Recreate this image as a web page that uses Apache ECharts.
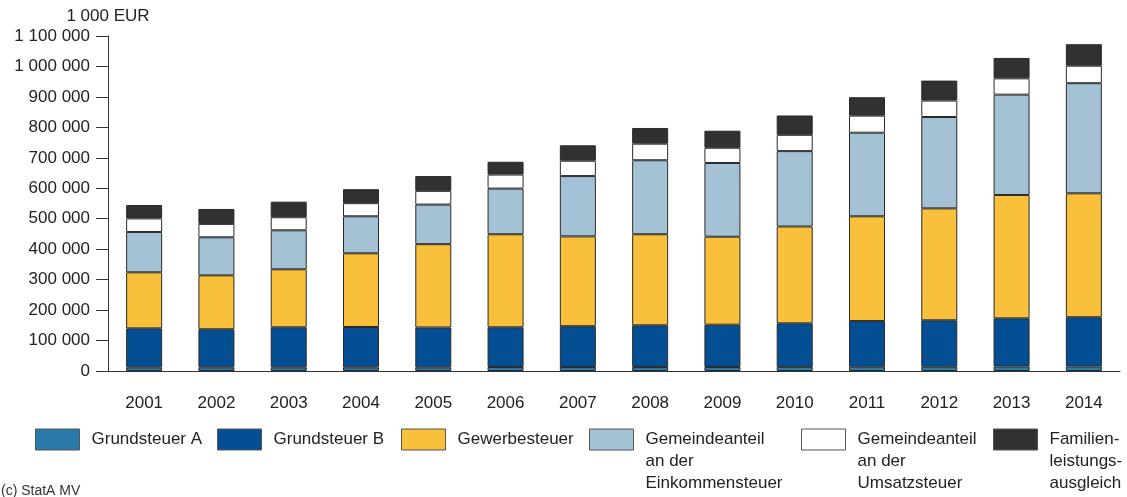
<!DOCTYPE html>
<html>
<head>
<meta charset="utf-8">
<script src="https://cdn.jsdelivr.net/npm/echarts@6/dist/echarts.min.js"></script>
<style>
html,body{margin:0;padding:0;background:#fff;}
#chart{width:1127px;height:497px;}
</style>
</head>
<body>
<div id="chart"></div>
<script>
const years = ['2001','2002','2003','2004','2005','2006','2007','2008','2009','2010','2011','2012','2013','2014'];
const grundsteuerA = [12000,12000,12000,12000,12000,13000,13000,13000,13000,13500,14000,14000,15000,15000];
const grundsteuerB = [128000,125000,131500,132500,131000,130500,134000,137000,139000,143000,150000,152500,158000,161500];
const gewerbesteuer = [184000,177000,190500,242000,273500,305500,295000,299000,289000,318000,344000,367500,405000,407000];
const einkommensteuer = [132500,125000,128000,121500,130000,150000,198000,243000,242000,247500,274500,300000,329500,361500];
const umsatzsteuer = [44500,44000,43000,43000,45000,46000,50500,54500,50000,53500,56000,54000,53500,57500];
const familienleistung = [44000,49000,51000,46000,48500,42000,50500,51500,56000,63500,60500,65500,67000,70500];
const yTicks = [0,100000,200000,300000,400000,500000,600000,700000,800000,900000,1000000,1100000];

const names = ['Grundsteuer A','Grundsteuer B','Gewerbesteuer',
  'Gemeindeanteil\nan der\nEinkommensteuer','Gemeindeanteil\nan der\nUmsatzsteuer','Familien-\nleistungs-\nausgleich'];
const colors = ['#2b7aa9','#044f93','#f8c03b','#a4c1d6','#ffffff','#323031'];
const dataSets = [grundsteuerA,grundsteuerB,gewerbesteuer,einkommensteuer,umsatzsteuer,familienleistung];
const legendLeft = [35,217,401,589,801,993];

const font = "'Liberation Sans', Arial, sans-serif";
const fmt = v => String(v).replace(/\B(?=(\d{3})+(?!\d))/g, ' ');

const series = names.map((n,i)=>({
  name:n, type:'bar', stack:'total', barWidth:36,
  data:dataSets[i],
  itemStyle:{color:colors[i], borderColor:'#2a2a2a', borderWidth:1},
  emphasis:{disabled:true}
}));

const legends = names.map((n,i)=>{
  const multi = n.indexOf('\n')>=0;
  return {
    data:[{name:n, icon:'rect'}], left:legendLeft[i], top: multi ? 384.5 : 428.5,
    padding:0, itemWidth:44, itemHeight:21, selectedMode:false,
    formatter: name => multi ? ' \n \n' + name : name,
    itemStyle:{borderColor:'#555', borderWidth:1},
    textStyle:{fontFamily:font, fontSize:17, color:'#222', lineHeight:22,
      padding:[0,0,0,7]}
  };
});

const chart = echarts.init(document.getElementById('chart'), null, {renderer:'canvas'});
chart.setOption({
  animation:false,
  backgroundColor:'#fff',
  grid:{left:108, top:36, width:1012, height:335, containLabel:false},
  legend: legends,
  xAxis:{
    type:'category', data:years,
    axisLine:{lineStyle:{color:'#333', width:1}},
    axisTick:{length:12, lineStyle:{color:'#555'}},
    axisLabel:{fontFamily:font, fontSize:17, color:'#222', margin:24}
  },
  yAxis:{
    type:'value', min:0, max:1100000, interval:100000,
    name:'1 000 EUR', nameLocation:'end', nameGap:11,
    nameTextStyle:{fontFamily:font, fontSize:17, color:'#222', align:'center'},
    axisLine:{show:true, lineStyle:{color:'#333', width:1}},
    axisTick:{show:true, length:12, lineStyle:{color:'#333'}},
    splitLine:{show:false},
    axisLabel:{fontFamily:font, fontSize:17, color:'#222', margin:18,
      formatter: v => yTicks.indexOf(v)>=0 ? fmt(v) : ''}
  },
  graphic:[{type:'text', left:1, top:484,
    style:{text:'(c) StatA MV', fontFamily:font, fontSize:14, fill:'#333'}}],
  series: series
});
</script>
</body>
</html>
